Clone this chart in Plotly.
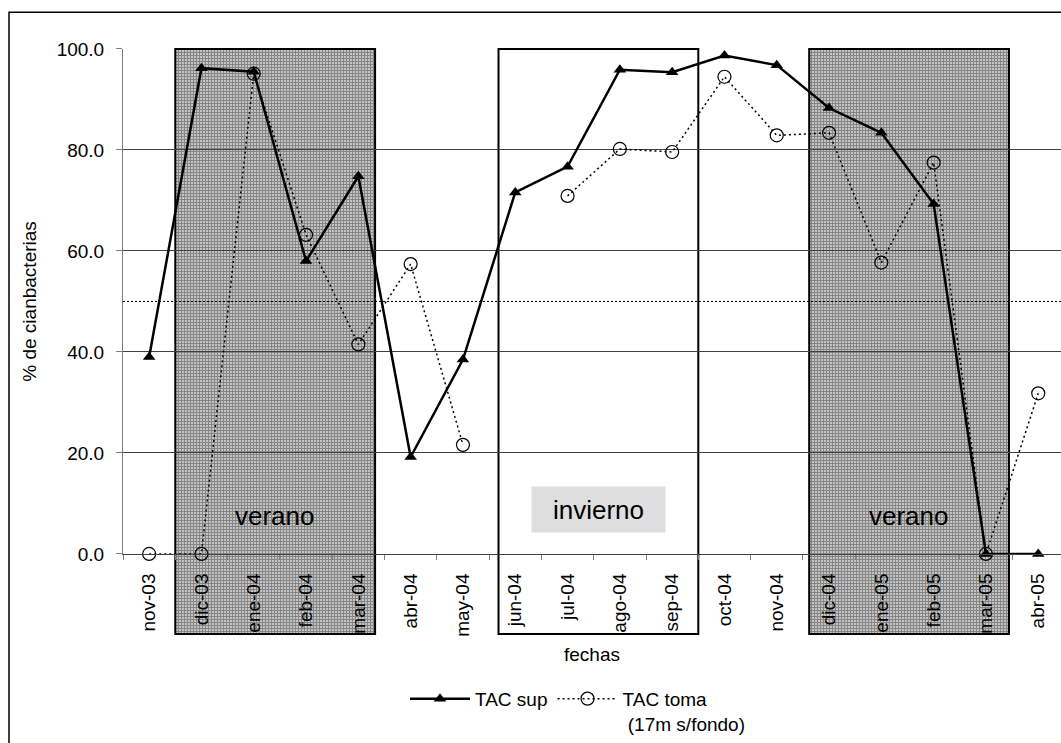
import plotly.graph_objects as go

# ---------------- data ----------------
months = ["nov-03", "dic-03", "ene-04", "feb-04", "mar-04", "abr-04", "may-04",
          "jun-04", "jul-04", "ago-04", "sep-04", "oct-04", "nov-04", "dic-04",
          "ene-05", "feb-05", "mar-05", "abr-05"]
tac_sup = [39.0, 96.2, 95.5, 58.0, 74.8, 19.2, 38.5, 71.6, 76.7, 95.9, 95.4,
           98.7, 96.8, 88.3, 83.4, 69.3, 0.0, 0.0]
tac_toma = [0.0, 0.0, 95.1, 63.2, 41.5, 57.4, 21.6, None, 70.9, 80.2, 79.6,
            94.5, 82.9, 83.4, 57.7, 77.5, 0.0, 31.8]
y_ticks = [0, 20, 40, 60, 80, 100]
threshold = 50
season_names = ["verano", "invierno", "verano"]
season_start = [0.5, 6.68, 12.62]   # in category units
season_end = [4.32, 10.5, 16.44]

# ---------------- geometry ----------------
W, H = 1061, 743
ML, MR, MT, MB = 123, 0, 45, 102
plot_top, plot_bottom = MT, H - MB
plot_h = plot_bottom - plot_top
plot_w = W - ML - MR
y100_px, y0_px = 49.0, 556.5
ppu = (y0_px - y100_px) / 100.0
cat_px = 52.3
x_range = [-0.5, -0.5 + plot_w / cat_px]
main_dom = [(plot_bottom - y0_px) / plot_h, (plot_bottom - y100_px) / plot_h]
hid_range = [0 - (plot_bottom - y0_px) / ppu, 100 + (y100_px - plot_top) / ppu]
box_bottom = (y0_px - 637) / ppu
box_top = 100

FONT = "Arial, Liberation Sans, sans-serif"

def px_x(p):
    return (p - ML) / plot_w

def px_y(p):
    return (plot_bottom - p) / plot_h

fig = go.Figure()

# season boxes (hidden subplot that extends below the axis)
is_summer = [n == "verano" for n in season_names]
fig.add_trace(go.Bar(
    x=[(s + e) / 2 for s, e in zip(season_start, season_end)],
    width=[e - s for s, e in zip(season_start, season_end)],
    base=[box_bottom] * len(season_names),
    y=[box_top - box_bottom] * len(season_names),
    xaxis="x", yaxis="y",
    marker=dict(
        color=["#c4c4c4" if v else "rgba(0,0,0,0)" for v in is_summer],
        line=dict(color="black", width=2),
        pattern=dict(shape=["+" if v else "" for v in is_summer],
                     fgcolor="#5c5c5c", bgcolor=["#c6c6c6" if v else "rgba(0,0,0,0)" for v in is_summer],
                     size=3, solidity=0.55),
    ),
    showlegend=False, hoverinfo="skip",
))

# data series
fig.add_trace(go.Scatter(
    x=months, y=tac_sup, name="TAC sup", xaxis="x2", yaxis="y2",
    mode="lines+markers", cliponaxis=False,
    line=dict(color="black", width=2.5),
    marker=dict(symbol="triangle-up", size=11, color="black"),
))
fig.add_trace(go.Scatter(
    x=months, y=tac_toma, name="TAC toma<br> (17m s/fondo)", xaxis="x2", yaxis="y2",
    mode="lines+markers", cliponaxis=False, connectgaps=False,
    line=dict(color="black", width=1.5, dash="2px,3px"),
    marker=dict(symbol="circle-open", size=13, color="black", line=dict(width=1.2)),
))

shapes = [
    # 50% reference line
    dict(type="line", xref="x2", yref="y2", x0=x_range[0], x1=x_range[1],
         y0=threshold, y1=threshold, line=dict(color="black", width=1, dash="2px,2px"),
         layer="below"),
    # outer chart border
    dict(type="rect", xref="paper", yref="paper",
         x0=px_x(9), x1=px_x(1080), y0=px_y(755), y1=px_y(12),
         line=dict(color="black", width=1.5), fillcolor="rgba(0,0,0,0)", layer="above"),
]

annotations = []
for name, s, e in zip(season_names, season_start, season_end):
    mid = (s + e) / 2
    if name == "invierno":
        annotations.append(dict(
            x=mid, y=(y0_px - 512) / ppu, xref="x", yref="y", text=name,
            showarrow=False, font=dict(family=FONT, size=26, color="black"),
            bgcolor="#dedede", width=131, height=43, xanchor="center", yanchor="middle"))
    else:
        annotations.append(dict(
            x=mid, y=(y0_px - 518) / ppu, xref="x", yref="y", text=name,
            showarrow=False, font=dict(family=FONT, size=26, color="black"),
            xanchor="center", yanchor="middle"))

fig.update_layout(
    width=W, height=H,
    margin=dict(l=ML, r=MR, t=MT, b=MB, pad=0),
    paper_bgcolor="white", plot_bgcolor="rgba(0,0,0,0)",
    font=dict(family=FONT, size=19, color="black"),
    xaxis=dict(domain=[0, 1], range=x_range, visible=False, fixedrange=True),
    yaxis=dict(domain=[0, 1], range=hid_range, visible=False, fixedrange=True),
    xaxis2=dict(domain=[0, 1], anchor="y2", type="category", categoryorder="array",
                categoryarray=months, range=x_range, tickangle=-90,
                tickson="boundaries", ticks="outside", ticklen=5, tickcolor="#808080",
                showline=True, linecolor="#404040", linewidth=1, showgrid=False,
                tickfont=dict(size=19), ticklabelstandoff=11,
                title=dict(text="fechas", font=dict(size=19), standoff=11)),
    yaxis2=dict(domain=main_dom, anchor="x2", range=[0, 100], tickvals=y_ticks,
                tickformat=".1f", ticks="outside", ticklen=6, tickcolor="#808080",
                showline=True, linecolor="#808080", linewidth=1,
                showgrid=True, gridcolor="#404040", gridwidth=1, zeroline=False,
                tickfont=dict(size=19), ticklabelstandoff=8,
                title=dict(text="% de cianbacterias", font=dict(size=19), standoff=14)),
    showlegend=True,
    legend=dict(orientation="h", x=px_x(405), xanchor="left", y=px_y(683), yanchor="top",
                font=dict(size=19), itemwidth=60, valign="top",
                bgcolor="rgba(0,0,0,0)", borderwidth=0, traceorder="normal"),
    shapes=shapes, annotations=annotations,
)

fig.write_html("out.html")
